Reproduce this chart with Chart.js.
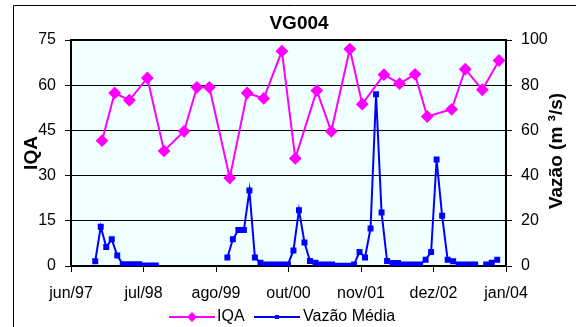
<!DOCTYPE html>
<html>
<head>
<meta charset="utf-8">
<script src="https://cdn.jsdelivr.net/npm/chart.js@4.4.1/dist/chart.umd.min.js"></script>
<style>
  body { margin: 0; background: #fff; }
  canvas { display: block; }
</style>
</head>
<body>
<canvas id="myChart" width="576" height="327"></canvas>
<script>
// VG004 - IQA e vazão média
var titulo = "VG004";
var tituloVazao = "Vazão (m ³/s)";
var xTickLabels = ["jun/97", "jul/98", "ago/99", "out/00", "nov/01", "dez/02", "jan/04"];

var iqaDates = [
    "1997-11-20", "1998-01-29", "1998-04-19", "1998-07-27", "1998-10-28",
    "1999-02-17", "1999-04-27", "1999-07-05", "1999-10-26", "2000-02-01",
    "2000-05-01", "2000-08-10", "2000-10-23", "2001-02-20", "2001-05-09",
    "2001-08-20", "2001-10-28", "2002-02-26", "2002-05-21", "2002-08-15",
    "2002-10-22", "2003-03-05", "2003-05-19", "2003-08-22", "2003-11-23"
];
var iqaValues = [
    41.6, 57.4, 55.0, 62.4, 38.2,
    44.7, 59.3, 59.3, 29.2, 57.4,
    55.6, 71.3, 35.7, 58.2, 44.7,
    72.0, 53.7, 63.5, 60.5, 63.6,
    49.6, 52.0, 65.3, 58.5, 68.2
];

// meses sem dado ficam null (quebra a linha)
var vazaoMonths = [
    "1997-10", "1997-11", "1997-12", "1998-01", "1998-02", "1998-03",
    "1998-04", "1998-05", "1998-06", "1998-07", "1998-08", "1998-09",
    "1999-03",
    "1999-10", "1999-11", "1999-12", "2000-01", "2000-02", "2000-03",
    "2000-04", "2000-05", "2000-06", "2000-07", "2000-08", "2000-09",
    "2000-10", "2000-11", "2000-12", "2001-01", "2001-02", "2001-03",
    "2001-04", "2001-05", "2001-06", "2001-07", "2001-08", "2001-09",
    "2001-10", "2001-11", "2001-12", "2002-01", "2002-02", "2002-03",
    "2002-04", "2002-05", "2002-06", "2002-07", "2002-08", "2002-09",
    "2002-10", "2002-11", "2002-12", "2003-01", "2003-02", "2003-03",
    "2003-04", "2003-05", "2003-06", "2003-07", "2003-08", "2003-09",
    "2003-10", "2003-11"
];
var vazaoValues = [
    2.1, 17.4, 8.4, 11.8, 4.6, 0.8,
    0.8, 0.8, 0.8, 0.2, 0.2, 0.2,
    null,
    3.8, 11.8, 15.9, 15.9, 33.4, 3.8,
    1.5, 0.7, 0.7, 0.7, 0.7, 0.7,
    6.9, 24.7, 10.4, 2.2, 1.4, 0.7,
    0.7, 0.7, 0.1, 0.1, 0.1, 0.7,
    6.2, 3.8, 16.6, 76.0, 23.7, 2.2,
    1.3, 1.3, 0.7, 0.7, 0.7, 0.7,
    2.8, 6.2, 47.1, 22.2, 2.8, 2.1,
    0.7, 0.7, 0.7, 0.7, null, 0.7,
    1.5, 2.8
];

// data -> meses desde jan/97 (mensal fica no meio do mês)
function toMonths(s) {
    var p = s.split("-");
    var d = p.length > 2 ? +p[2] : 13;
    return (+p[0] - 1997) * 12 + (+p[1] - 1) + (d - 1) / 30;
}

var xMin = toMonths("1997-06-01");
var xMax = toMonths("2004-01-01");

var iqaData = iqaDates.map(function (d, i) { return { x: toMonths(d), y: iqaValues[i] }; });
var vazaoData = vazaoMonths.map(function (m, i) { return { x: toMonths(m), y: vazaoValues[i] }; });

var fontFamily = "Arial, 'Liberation Sans', sans-serif";
Chart.defaults.font.family = fontFamily;
Chart.defaults.font.size = 16;
Chart.defaults.color = "#000";

var extras = {
    id: "extras",
    beforeDraw: function (chart) {
        var ctx = chart.ctx, a = chart.chartArea;
        ctx.save();
        ctx.fillStyle = "#F0FFFF";
        ctx.fillRect(a.left, a.top, a.right - a.left, a.bottom - a.top);
        // moldura do gráfico
        ctx.strokeStyle = "#000";
        ctx.lineWidth = 1;
        ctx.beginPath();
        ctx.moveTo(13.5, 327);
        ctx.lineTo(13.5, 5.5);
        ctx.lineTo(576, 5.5);
        ctx.stroke();
        ctx.restore();
    },
    beforeDatasetsDraw: function (chart) {
        var ctx = chart.ctx, a = chart.chartArea;
        ctx.save();
        ctx.strokeStyle = "#000";
        ctx.lineWidth = 2;
        ctx.strokeRect(a.left, a.top, a.right - a.left, a.bottom - a.top);
        ctx.restore();
    },
    afterDraw: function (chart) {
        var ctx = chart.ctx;
        ctx.save();
        ctx.font = "bold 19px " + fontFamily;
        ctx.fillStyle = "#000";
        ctx.textAlign = "center";
        ctx.textBaseline = "middle";
        ctx.fillText(titulo, 299, 24);

        // título do eixo direito, lido de baixo para cima como no original
        ctx.save();
        ctx.translate(557, 151);
        ctx.rotate(-Math.PI / 2);
        ctx.fillText(tituloVazao, 0, 0);
        ctx.restore();

        // legenda
        var y = 317;
        ctx.lineWidth = 2;
        ctx.strokeStyle = "#FF00FF";
        ctx.beginPath(); ctx.moveTo(169, y); ctx.lineTo(215, y); ctx.stroke();
        ctx.fillStyle = "#FF00FF";
        ctx.beginPath();
        ctx.moveTo(192, y - 5); ctx.lineTo(197, y); ctx.lineTo(192, y + 5); ctx.lineTo(187, y);
        ctx.closePath(); ctx.fill();
        ctx.strokeStyle = "#0000FF";
        ctx.beginPath(); ctx.moveTo(254, y); ctx.lineTo(300, y); ctx.stroke();
        ctx.fillStyle = "#0000FF";
        ctx.fillRect(275, y - 2, 4, 4);
        ctx.fillStyle = "#000";
        ctx.font = "16px " + fontFamily;
        ctx.textAlign = "left";
        ctx.fillText("IQA", 217, y);
        ctx.fillText("Vazão Média", 303, y);
        ctx.restore();
    }
};

new Chart("myChart", {
    type: "line",
    data: {
        datasets: [{
            label: "IQA",
            data: iqaData,
            yAxisID: "y",
            borderColor: "#FF00FF",
            backgroundColor: "#FF00FF",
            borderWidth: 2,
            pointStyle: "rectRot",
            pointRadius: 5,
            tension: 0
        }, {
            label: "Vazão Média",
            data: vazaoData,
            yAxisID: "y1",
            borderColor: "#0000FF",
            backgroundColor: "#0000FF",
            borderWidth: 2,
            pointStyle: "rect",
            pointRadius: 2.8,
            tension: 0
        }]
    },
    options: {
        responsive: false,
        animation: false,
        layout: { padding: { top: 40, left: 0, right: 0, bottom: 0 } },
        plugins: {
            legend: { display: false },
            tooltip: { enabled: false }
        },
        scales: {
            x: {
                type: "linear",
                min: xMin,
                max: xMax,
                afterBuildTicks: function (scale) {
                    scale.ticks = xTickLabels.map(function (l, i) {
                        return { value: xMin + i * (xMax - xMin) / (xTickLabels.length - 1) };
                    });
                },
                afterFit: function (scale) { scale.height = 61; },
                grid: { drawOnChartArea: false, color: "#000", tickLength: 6 },
                border: { display: false },
                ticks: {
                    autoSkip: false,
                    maxRotation: 0,
                    padding: 12,
                    callback: function (v, i) { return xTickLabels[i]; }
                }
            },
            y: {
                position: "left",
                min: 0,
                max: 75,
                afterFit: function (scale) { scale.width = 71; },
                grid: { color: "#000", tickLength: 6 },
                border: { display: false },
                ticks: { stepSize: 15, padding: 9 },
                title: {
                    display: true,
                    text: "IQA",
                    font: { size: 19, weight: "bold" },
                    padding: { top: 20, bottom: 0 }
                }
            },
            y1: {
                position: "right",
                min: 0,
                max: 100,
                afterFit: function (scale) { scale.width = 70; },
                grid: { drawOnChartArea: false, color: "#000", tickLength: 6 },
                border: { display: false },
                ticks: { stepSize: 20, padding: 9 }
            }
        }
    },
    plugins: [extras]
});
</script>
</body>
</html>
